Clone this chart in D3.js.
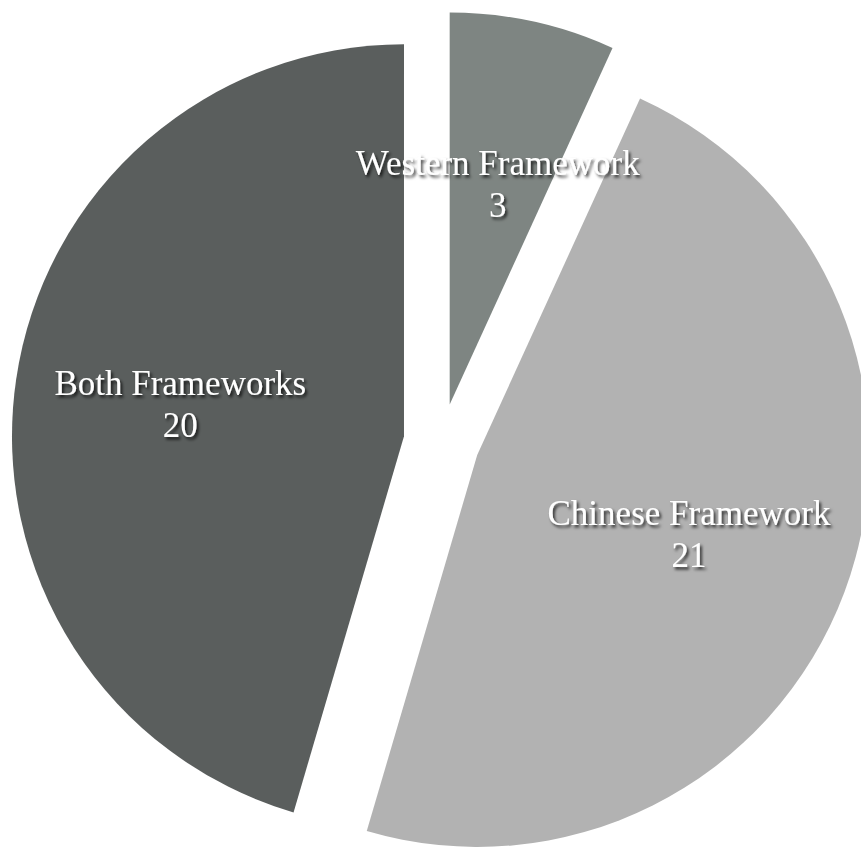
<!DOCTYPE html>
<html>
<head>
<meta charset="utf-8">
<script src="https://cdn.jsdelivr.net/npm/d3@7"></script>
<style>
  html, body { margin: 0; padding: 0; background: #ffffff; }
  svg { display: block; }
</style>
</head>
<body>
<svg id="chart" width="861" height="849"></svg>
<script>
// Number of items classified by framework
const categories = ["Western Framework", "Chinese Framework", "Both Frameworks"];
const counts = [3, 21, 20];
const colors = ["#7e8582", "#b2b2b2", "#5a5e5d"];

const width = 861, height = 849;
const cx = 441.6, cy = 441.7;
const radius = 392;
const explode = 38;          // every slice pulled out from the centre
const labelDist = 226;       // label distance from a slice's apex
const fontSize = 35, lineH = 42;

const svg = d3.select("#chart");

const defs = svg.append("defs");
const shadow = defs.append("filter").attr("id", "txtShadow")
  .attr("x", "-10%").attr("y", "-30%").attr("width", "120%").attr("height", "160%");
shadow.append("feDropShadow")
  .attr("dx", 2).attr("dy", 2.5).attr("stdDeviation", 1.6)
  .attr("flood-color", "#000").attr("flood-opacity", 0.75);

const data = categories.map((c, i) => ({ name: c, value: counts[i], color: colors[i] }));

const pie = d3.pie().sort(null).value(d => d.value).startAngle(0).endAngle(2 * Math.PI);
const arc = d3.arc().innerRadius(0).outerRadius(radius);
const arcs = pie(data);

const offset = (a, dist) => [Math.sin(a) * dist, -Math.cos(a) * dist];
const apex = d => offset((d.startAngle + d.endAngle) / 2, explode);

const g = svg.append("g").attr("transform", `translate(${cx},${cy})`);

// slices
g.append("g").selectAll("path").data(arcs).join("path")
  .attr("transform", d => `translate(${apex(d)})`)
  .attr("d", arc)
  .attr("fill", d => d.data.color);

// labels on top of all slices
g.append("g").selectAll("text").data(arcs).join("text")
  .attr("text-anchor", "middle")
  .attr("font-family", "'Liberation Serif', 'Times New Roman', serif")
  .attr("font-size", fontSize)
  .attr("fill", "#ffffff")
  .attr("filter", "url(#txtShadow)")
  .each(function (d) {
    const m = (d.startAngle + d.endAngle) / 2;
    const [ax, ay] = apex(d);
    const [ox, oy] = offset(m, labelDist);
    const lx = ax + ox, ly = ay + oy;
    const b1 = ly - (lineH - 0.675 * fontSize) / 2;
    const t = d3.select(this);
    t.append("tspan").attr("x", lx).attr("y", b1).text(d.data.name);
    t.append("tspan").attr("x", lx).attr("y", b1 + lineH).text(d.data.value);
  });
</script>
</body>
</html>
